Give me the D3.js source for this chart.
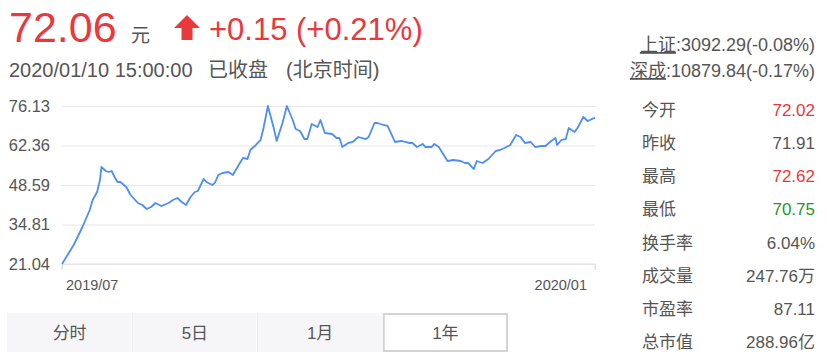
<!DOCTYPE html>
<html>
<head>
<meta charset="utf-8">
<script src="https://cdn.jsdelivr.net/npm/d3@7"></script>
<style>
  body { margin: 0; background: #fff; }
  svg text { font-family: "Liberation Sans", Arial, "Noto Sans CJK SC", sans-serif; }
</style>
</head>
<body>
<div id="chart"></div>
<script>
// price header
var price = "72.06",
    change = "+0.15 (+0.21%)",
    stamp = "2020/01/10 15:00:00",
    status = "已收盘",
    zone = "(北京时间)";

// index quotes
var indexNames = ["上证", "深成"],
    indexQuotes = [":3092.29(-0.08%)", ":10879.84(-0.17%)"];

// stats table
var statLabels = ["今开", "昨收", "最高", "最低", "换手率", "成交量", "市盈率", "总市值"],
    statValues = ["72.02", "71.91", "72.62", "70.75", "6.04%", "247.76万", "87.11", "288.96亿"],
    statDir = ["up", "flat", "up", "down", "flat", "flat", "flat", "flat"];

// 1 year line (day offset, close)
var days = [0, 8, 14, 19, 21, 24, 26, 27, 30, 32, 34, 36, 38, 40, 44, 47, 52, 55, 58, 61, 64,
  68, 73, 76, 79, 82, 85, 88, 91, 93, 97, 99, 103, 105, 107, 110, 114, 117, 121, 124, 127,
  129, 132, 136, 138, 141, 145, 147, 151, 154, 158, 160, 163, 166, 168, 171, 175, 177, 180, 185, 188,
  190, 192, 196, 199, 203, 208, 210, 214, 216, 220, 223, 228, 232, 235, 238, 240, 243, 247, 249, 253,
  255, 258, 264, 268, 273, 276, 278, 282, 284, 288, 292, 297, 300, 303, 307, 311, 314, 317, 321, 324,
  328, 331, 335, 338, 339, 342, 345, 347, 351, 353, 357, 360, 365];
var closes = [21.04, 27.66, 33.94, 39.87, 43.35, 46.14, 50.33, 54.86, 53.47, 53.12, 53.47, 51.37, 49.63, 49.63, 47.89, 45.10, 42.31, 41.61, 40.22, 40.91, 42.31,
  41.26, 42.31, 43.35, 44.05, 42.66, 41.61, 44.40, 46.14, 46.49, 50.68, 49.63, 48.58, 49.63, 52.07, 52.77, 53.12, 52.07, 55.56, 58.00, 57.65,
  60.79, 62.18, 64.28, 68.46, 76.13, 68.46, 63.93, 70.20, 76.13, 71.25, 68.11, 67.41, 64.62, 64.62, 69.85, 68.81, 71.25, 66.72, 66.37, 64.97,
  64.97, 61.83, 63.23, 63.58, 65.32, 64.62, 65.32, 70.20, 70.20, 69.51, 69.16, 63.58, 63.93, 63.58, 63.23, 63.23, 61.83, 62.88, 61.83, 61.83,
  62.88, 61.83, 56.95, 57.30, 56.95, 56.26, 56.26, 54.16, 56.95, 56.26, 57.65, 60.44, 60.79, 61.49, 62.53, 66.02, 65.32, 63.23, 63.58, 61.83,
  62.18, 62.18, 63.93, 64.97, 62.53, 64.28, 64.62, 68.46, 67.06, 68.46, 72.29, 70.90, 72.06];

var yTicks = ["21.04", "34.81", "48.59", "62.36", "76.13"];
var xLabels = ["2019/07", "2020/01"];

var tabs = ["分时", "5日", "1月", "1年"],
    activeTab = 3;

var w = 827, h = 361;
var p = {"top": 106, "right": 232, "left": 62, "bot": 97};
var red = "#e8393c", green = "#21992a", grey = "#555";

var svg = d3.select("#chart").append("svg")
    .attr("width", w)
    .attr("height", h);

// ---- header
svg.append("text")
    .attr("x", 9).attr("y", 42)
    .style("font-size", "43px").style("fill", red)
    .text(price);

svg.append("text")
    .attr("x", 131).attr("y", 42)
    .style("font-size", "19px").style("fill", grey)
    .text("元");

svg.append("path")
    .attr("d", "M174,28 L187,15 L200,28 L192.5,28 L192.5,40 L181.5,40 L181.5,28 Z")
    .style("fill", red);

svg.append("text")
    .attr("x", 209).attr("y", 40)
    .style("font-size", "31px").style("fill", red)
    .text(change);

var sub = svg.append("text")
    .attr("x", 9).attr("y", 77)
    .style("font-size", "20px").style("fill", grey);
sub.append("tspan").text(stamp);
sub.append("tspan").attr("x", 208).text(status);
sub.append("tspan").attr("x", 286).text(zone);

// ---- index quotes
indexNames.forEach(function(n, i){
  var t = svg.append("text")
      .attr("x", 815).attr("y", 51 + i * 26)
      .attr("text-anchor", "end")
      .style("font-size", "18px").style("fill", grey);
  t.append("tspan").style("text-decoration", "underline").text(n);
  t.append("tspan").text(indexQuotes[i]);
});

// ---- stats
var rowY = d3.scaleLinear().domain([0, statLabels.length - 1]).range([116, 348]);
var dirColor = {"up": red, "down": green, "flat": grey};

svg.selectAll(".statLabel")
  .data(statLabels)
  .enter().append("text")
    .attr("class", "statLabel")
    .attr("x", 642)
    .attr("y", function(d, i){ return rowY(i) })
    .style("font-size", "17px").style("fill", grey)
    .text(function(d){ return d });

svg.selectAll(".statValue")
  .data(statValues)
  .enter().append("text")
    .attr("class", "statValue")
    .attr("x", 815)
    .attr("y", function(d, i){ return rowY(i) })
    .attr("text-anchor", "end")
    .style("font-size", "17px")
    .style("fill", function(d, i){ return dirColor[statDir[i]] })
    .text(function(d){ return d });

// ---- chart
var xScale = d3.scaleLinear()
    .domain([0, d3.max(days)])
    .range([p.left, w - p.right]);

var yScale = d3.scaleLinear()
    .domain([+yTicks[0], +yTicks[yTicks.length - 1]])
    .range([h - p.bot, p.top]);

var yAxis = d3.axisLeft(yScale)
    .tickValues(yTicks.map(Number))
    .tickFormat(function(d, i){ return yTicks[i] })
    .tickSize(-(w - p.right - p.left))
    .tickPadding(12);

var gy = svg.append("g")
    .attr("transform", "translate(" + p.left + ",0)")
    .call(yAxis);
gy.select(".domain").remove();
gy.selectAll("line").style("stroke", "#e6e6ea");
gy.selectAll("text")
    .attr("x", -12)
    .style("font-size", "16.5px").style("fill", grey)
    .style("font-family", "'Liberation Sans', Arial, sans-serif");

// bottom axis line with end ticks
var xAxis = d3.axisBottom(xScale)
    .tickValues(xScale.domain())
    .tickSize(6)
    .tickFormat("");
var gx = svg.append("g")
    .attr("transform", "translate(0," + (h - p.bot) + ")")
    .call(xAxis);
gx.select(".domain").style("stroke", "#e0e0e6").attr("d", "M" + p.left + ",6V0H" + (w - p.right) + "V6");
gx.selectAll("line").style("stroke", "#e0e0e6");

svg.selectAll(".xLabel")
  .data(xLabels)
  .enter().append("text")
    .attr("class", "xLabel")
    .attr("x", function(d, i){ return i == 0 ? xScale.range()[0] + 4 : xScale.range()[1] - 8 })
    .attr("y", 290)
    .attr("text-anchor", function(d, i){ return i == 0 ? "start" : "end" })
    .style("font-size", "14.5px").style("fill", grey)
    .text(function(d){ return d });

var line = d3.line()
    .x(function(d){ return xScale(d[0]) })
    .y(function(d){ return yScale(d[1]) });

svg.append("path")
    .datum(days.map(function(d, i){ return [d, closes[i]] }))
    .attr("d", line)
    .style("fill", "none")
    .style("stroke", "#4d8ff0")
    .style("stroke-width", 1.8)
    .style("stroke-linejoin", "round");

// ---- tabs
var tabX = d3.scaleBand().domain(d3.range(tabs.length)).range([7, 508]);

svg.selectAll(".tab")
  .data(tabs)
  .enter().append("rect")
    .attr("class", "tab")
    .attr("x", function(d, i){ return tabX(i) + (i == activeTab ? 1 : 0) })
    .attr("y", function(d, i){ return i == activeTab ? 314 : 313 })
    .attr("width", function(d, i){ return tabX.bandwidth() - (i == activeTab ? 2 : 1) })
    .attr("height", function(d, i){ return i == activeTab ? 37 : 39 })
    .style("fill", function(d, i){ return i == activeTab ? "#fff" : "#f6f6f8" })
    .style("stroke", function(d, i){ return i == activeTab ? "#d4d4d4" : "none" })
    .style("stroke-width", 2);

svg.selectAll(".tabSep")
  .data(d3.range(1, tabs.length - 1))
  .enter().append("line")
    .attr("class", "tabSep")
    .attr("x1", function(d){ return tabX(d) }).attr("x2", function(d){ return tabX(d) })
    .attr("y1", 313).attr("y2", 352)
    .style("stroke", "#ececef").style("stroke-width", 1);

svg.selectAll(".tabText")
  .data(tabs)
  .enter().append("text")
    .attr("class", "tabText")
    .attr("x", function(d, i){ return tabX(i) + tabX.bandwidth() / 2 })
    .attr("y", 339)
    .attr("text-anchor", "middle")
    .style("font-size", "17px").style("fill", grey)
    .text(function(d){ return d });
</script>
</body>
</html>
